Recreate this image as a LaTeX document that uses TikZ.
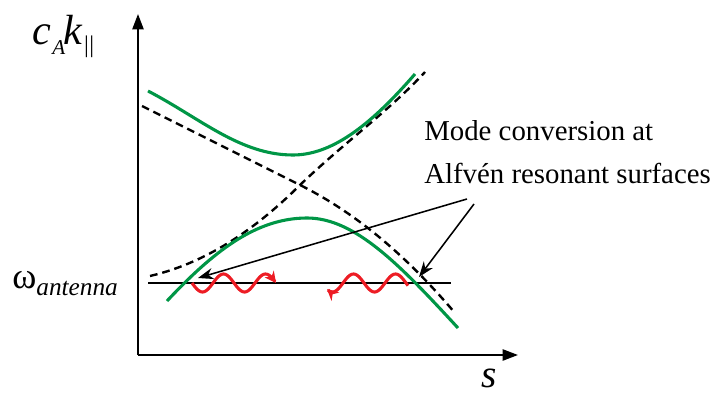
\documentclass[tikz,border=0pt]{standalone}
\usepackage{fontspec}
\setmainfont{Liberation Serif}
\usetikzlibrary{arrows.meta}
\definecolor{modegreen}{RGB}{0,150,70}
\definecolor{wavered}{RGB}{237,28,36}
\tikzset{
  axis/.style={line width=1.4pt, -{Triangle[length=11pt,width=8pt]}},
  branch/.style={modegreen, line width=2.2pt},
  uncoupled/.style={line width=1.7pt, dash pattern=on 5.5pt off 3.5pt},
  pointer/.style={line width=1.1pt, -{Stealth[length=11pt,width=8pt]}},
  wave/.style={wavered, line width=2.2pt, -{Stealth[length=8pt,width=8pt]}},
}
\begin{document}
\begin{tikzpicture}[x=0.025cm, y=-0.025cm]
\useasboundingbox (0,0) rectangle (716,394);
% axes
\coordinate (o) at (138,355);
\coordinate (ytip) at (138,14);
\coordinate (xtip) at (518,355);
\draw[axis] (o) -- (ytip);
\draw[axis] (o) -- (xtip);
\node[anchor=base west, inner sep=0pt] (ylab) at (32,45)
  {\fontsize{30}{30}\selectfont\itshape c\kern1pt\raisebox{-7pt}{\fontsize{15}{15}\selectfont A}\kern-1pt k\kern1pt\raisebox{-5pt}{\upshape\fontsize{17}{17}\selectfont|\kern0.5pt|}};
\node[anchor=base west, inner sep=0pt] (xlab) at (481,387)
  {\fontsize{28}{28}\selectfont\itshape s};
% antenna frequency
\coordinate (wa) at (148,283);
\coordinate (wb) at (451,283);
\draw[line width=1pt] (wa) -- (wb);
\node[anchor=base west, inner sep=0pt] (wlab) at (12,288)
  {\fontsize{26}{26}\selectfont ω\raisebox{-5pt}{\fontsize{18}{18}\selectfont\itshape antenna}};
% uncoupled branches
\draw[uncoupled] (142,106) .. controls (220,145) and (250,160) .. (300,185)
  .. controls (360,215) and (410,260) .. (455,313);
\draw[uncoupled] (150,276) .. controls (210,262) and (260,225) .. (300,185)
  .. controls (345,142) and (390,110) .. (425,72);
% coupled branches
\draw[branch] (148,91) .. controls (200,118) and (240,155) .. (293,155)
  .. controls (335,155) and (375,120) .. (415,74);
\draw[branch] (167,301) .. controls (212,253) and (255,218) .. (307,218)
  .. controls (355,218) and (400,265) .. (458,328);
% resonances
\coordinate (resl) at (198,278);
\coordinate (resr) at (419,277);
\node[anchor=base west, inner sep=0pt, align=left, font=\fontsize{20.5}{30}\selectfont] (note) at (424,183)
  {Mode conversion at\\Alfvén resonant surfaces};
\coordinate (pl) at (467,199);
\coordinate (pr) at (474,204);
\draw[pointer] (pl) -- (resl);
\draw[pointer] (pr) -- (resr);
% mode converted waves
\draw[wave] plot[domain=192:276, samples=80] (\x, {283+9*sin((\x-192)*8.5714)});
\draw[wave] plot[domain=408:327, samples=80] (\x, {283-9*sin((406-\x)*8.5714)});
\end{tikzpicture}
\end{document}
